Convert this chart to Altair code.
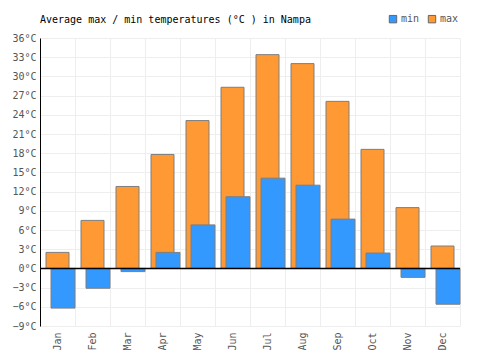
import altair as alt
import pandas as pd

months = ["Jan", "Feb", "Mar", "Apr", "May", "Jun", "Jul", "Aug", "Sep", "Oct", "Nov", "Dec"]
max_temps = [2.5, 7.5, 12.8, 17.8, 23.1, 28.3, 33.4, 32.0, 26.1, 18.6, 9.5, 3.5]
min_temps = [-6.2, -3.1, -0.5, 2.5, 6.8, 11.2, 14.1, 13.0, 7.7, 2.4, -1.4, -5.6]
y_ticks = [-9, -6, -3, 0, 3, 6, 9, 12, 15, 18, 21, 24, 27, 30, 33, 36]

rows = []
for m, mx, mn in zip(months, max_temps, min_temps):
    rows.append({"month": m, "series": "max", "temp": mx})
    rows.append({"month": m, "series": "min", "temp": mn})
df = pd.DataFrame(rows)

FONT = "DejaVu Sans Mono"

x = alt.X("month:N", sort=months, title=None,
          scale=alt.Scale(paddingInner=0, paddingOuter=0),
          axis=alt.Axis(labelAngle=-90, domain=False, ticks=False, tickBand="extent",
                        grid=True, gridColor="#eeeeee", labelColor="#555555",
                        labelFont=FONT, labelFontSize=10, labelPadding=6))
y_axis = alt.Axis(values=y_ticks, labelExpr="format(datum.value, 'd') + '°C'",
                  labelOverlap=False,
                  domainColor="#000000", ticks=False, gridColor="#eeeeee",
                  labelColor="#555555", labelFont=FONT, labelFontSize=10,
                  labelPadding=4)
y_scale = alt.Scale(domain=[-9, 36], nice=False, zero=False)
y = alt.Y("temp:Q", title=None, scale=y_scale, axis=y_axis)
color = alt.Color("series:N",
                  scale=alt.Scale(domain=["min", "max"], range=["#3399ff", "#ff9933"]),
                  legend=alt.Legend(title=None, orient="none", direction="horizontal",
                                    legendX=348, legendY=-24, symbolType="square",
                                    symbolSize=55, symbolStrokeColor="#666666",
                                    symbolStrokeWidth=1, labelFont=FONT, labelFontSize=10,
                                    labelColor="#555555", columnPadding=6, labelOffset=3))

base = alt.Chart(df)
max_bars = base.transform_filter(alt.datum.series == "max").mark_bar(
    width=23, stroke="#7f7f7f", strokeWidth=1
).encode(x=x, y=y, y2=alt.datum(0), color=color)
min_bars = base.transform_filter(alt.datum.series == "min").mark_bar(
    width=24, xOffset=5.5, stroke="#7f7f7f", strokeWidth=1
).encode(x=x, y=y, y2=alt.datum(0), color=color)
zero = alt.Chart(pd.DataFrame({"temp": [0]})).mark_rule(color="#000000", strokeWidth=1.5).encode(
    y=alt.Y("temp:Q", title=None, scale=y_scale, axis=y_axis))

chart = alt.layer(max_bars, min_bars, zero).properties(
    width=420, height=288,
    autosize=alt.AutoSizeParams(type="none"),
    padding={"left": 40, "top": 38, "right": 40, "bottom": 24},
    title=alt.TitleParams("Average max / min temperatures (°C ) in Nampa", anchor="start",
                          frame="group", font=FONT, fontSize=10, fontWeight="normal",
                          color="#000000", offset=-11),
).configure_view(stroke=None).configure_axisY(labelOverlap=False)

chart.save("out.html", embed_options={"renderer": "svg", "actions": False})
